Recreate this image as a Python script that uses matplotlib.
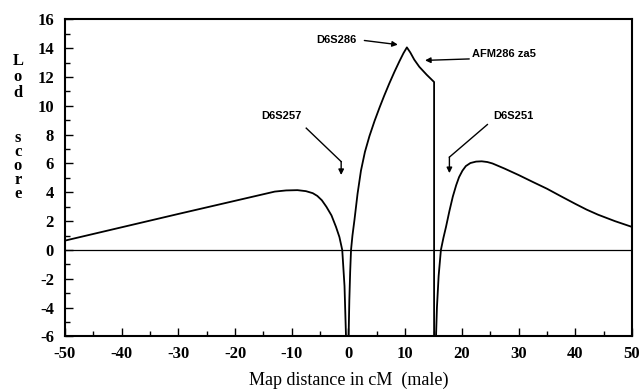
# -*- coding: utf-8 -*-
"""
Lod score curve against map distance (male), with marker annotations.
"""

import numpy as np
import matplotlib
matplotlib.use('Agg')
import matplotlib.pyplot as plt

plt.rcParams['axes.unicode_minus'] = False


## Curve values (cM, lod score)
dist_cm = [-50, -30, -13, -11, -9, -7.5, -6.3, -5.5, -4.7, -3.9, -3.0, -2.2, -1.6, -1.1, -0.7, -0.4,
           0.0, 0.15, 0.3, 0.45, 0.7, 1.06, 1.6, 2.2, 2.9, 3.7, 4.6, 5.5, 6.3, 7.2, 8.1, 9.0,
           9.7, 10.3, 10.9, 11.6, 12.5, 13.8, 15.1,
           15.1, 15.4, 15.6, 15.9, 16.3, 16.75, 17.2, 17.8, 18.4, 19.0, 19.5, 20.1, 20.7, 21.5,
           22.5, 23.5, 24.5, 25.4, 27.5, 30, 32.5, 35, 37.5, 40, 42, 44, 47, 50]
lod = [0.65, 2.5, 4.05, 4.13, 4.15, 4.08, 3.94, 3.75, 3.45, 3.0, 2.4, 1.6, 0.9, 0.0, -2.5, -6.5,
       -6.5, -3.5, -1.5, 0.0, 1.0, 2.1, 3.9, 5.5, 6.8, 7.9, 8.95, 9.9, 10.7, 11.55, 12.35, 13.1,
       13.65, 14.05, 13.7, 13.2, 12.7, 12.15, 11.65,
       -6.5, -6.5, -4.0, -1.8, 0.0, 0.85, 1.6, 2.7, 3.7, 4.5, 5.05, 5.5, 5.82, 6.03,
       6.13, 6.15, 6.1, 6.0, 5.65, 5.2, 4.72, 4.25, 3.72, 3.2, 2.8, 2.45, 2.0, 1.6]

# Marker labels and arrow geometry (data coords)
markers = ['D6S286', 'AFM286 za5', 'D6S257', 'D6S251']
text_xy = [(-2.2, 14.58), (21.8, 13.6), (-11.8, 9.3), (29.0, 9.3)]
bend_xy = [None, None, (-7.45, 8.45), (24.5, 8.7)]
tail_xy = [(2.8, 14.53), (21.3, 13.25), (-1.29, 6.13), (17.8, 6.44)]
head_xy = [(8.7, 14.24), (13.5, 13.15), (-1.29, 5.2), (17.8, 5.33)]

xticks = np.arange(-50, 51, 10)
yticks = np.arange(-6, 17, 2)

fig = plt.figure(figsize=(6.39, 3.92), dpi=100)
ax = fig.add_axes([0.1017, 0.1416, 0.8873, 0.8092])

ax.plot(dist_cm, lod, color='black', linewidth=1.3)
ax.axhline(0, color='black', linewidth=0.9)

ax.set_xlim(-50, 50)
ax.set_ylim(-6, 16)
ax.set_xticks(xticks)
ax.set_yticks(yticks)
ax.set_xticks(np.arange(-50, 51, 5), minor=True)
ax.set_yticks(np.arange(-6, 17, 1), minor=True)
ax.tick_params(which='both', direction='in', width=1.0)
ax.tick_params(which='major', length=6)
ax.tick_params(which='minor', length=3.5)
ax.tick_params(axis='y', pad=8)
ax.tick_params(axis='x', pad=7)
for lab in ax.get_xticklabels() + ax.get_yticklabels():
    lab.set_family('Liberation Serif')
    lab.set_fontweight('bold')
    lab.set_fontsize(12)
for sp in ax.spines.values():
    sp.set_linewidth(1.5)

ax.set_xlabel('Map distance in cM  (male)', family='Liberation Serif', fontsize=13,
              labelpad=7)

# Stacked y-axis label
fig.text(0.028, 0.865, 'L\no\nd', family='Liberation Serif', fontweight='bold',
         fontsize=12, ha='center', va='top', linespacing=1.0)
fig.text(0.028, 0.668, 's\nc\no\nr\ne', family='Liberation Serif', fontweight='bold',
         fontsize=12, ha='center', va='top', linespacing=0.84)

# Marker annotations
for name, txy, bxy, sxy, hxy in zip(markers, text_xy, bend_xy, tail_xy, head_xy):
    ax.text(txy[0], txy[1], name, family='Liberation Sans', fontweight='bold',
            fontsize=8, ha='left' if name.startswith('AFM') else 'center', va='center')
    if bxy is not None:
        ax.plot([bxy[0], sxy[0]], [bxy[1], sxy[1]], color='black', linewidth=1.0)
    ax.annotate('', xy=hxy, xytext=sxy,
                arrowprops=dict(arrowstyle='-|>', color='black', lw=1.0,
                                mutation_scale=8, shrinkA=0, shrinkB=0))

fig.savefig('out.png', dpi=100)
